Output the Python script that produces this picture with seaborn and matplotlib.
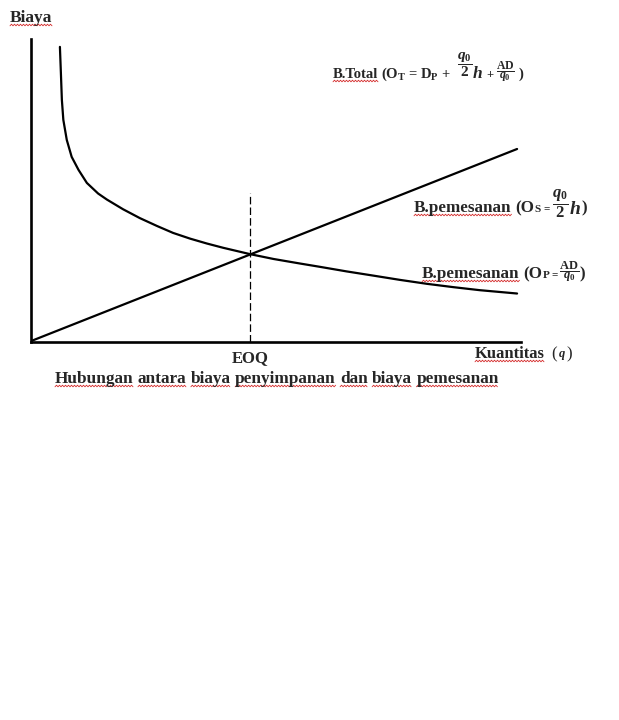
"""
EOQ chart: holding cost vs ordering cost (Biaya vs Kuantitas)
"""
import numpy as np
import matplotlib
matplotlib.use("Agg")
import matplotlib.pyplot as plt
from matplotlib.lines import Line2D
from matplotlib.transforms import IdentityTransform
import seaborn as sns

# ── DATA (axes scaled 0..100) ───────────────────────────────
order_q = [5.9, 6.1, 6.3, 6.6, 7.3, 8.3, 9.7, 11.4, 13.7, 15.5, 18.8, 22.2, 25.7,
           29.0, 32.5, 35.9, 39.2, 44.7, 49.5, 54.9, 59.0, 64.4, 69.9, 75.3,
           80.8, 86.2, 91.6, 99.2]
order_cost = [97.4, 88.8, 79.9, 73.3, 66.7, 61.1, 56.8, 52.5, 49.0, 47.0, 43.8, 40.9, 38.3,
              36.0, 34.1, 32.5, 31.1, 29.0, 27.4, 25.9, 24.8, 23.3, 21.9, 20.5,
              19.2, 18.1, 17.1, 16.0]
hold_q = [0.0, 99.2]
hold_cost = [0.3, 63.7]
eoq_x = 44.7
eoq_top = 49.2

caption_words = ["Hubungan", "antara", "biaya", "penyimpanan", "dan", "biaya", "pemesanan"]

# ── STYLE ───────────────────────────────────────────────────
sns.set_style("white")
plt.rcParams["font.family"] = ["Liberation Serif", "DejaVu Serif"]
plt.rcParams["mathtext.fontset"] = "custom"
plt.rcParams["mathtext.rm"] = "Liberation Serif:bold"
plt.rcParams["mathtext.bf"] = "Liberation Serif:bold"
plt.rcParams["mathtext.it"] = "Liberation Serif:italic:bold"

W, H = 619, 720
fig = plt.figure(figsize=(W / 100, H / 100), dpi=100)
fig.patch.set_facecolor("white")
ax = fig.add_axes([31 / W, 1 - 342 / H, 490 / W, 303 / H])

sns.lineplot(x=order_q, y=order_cost, sort=False, color="black", lw=1.6, ax=ax)
sns.lineplot(x=hold_q, y=hold_cost, sort=False, color="black", lw=1.6, ax=ax)
ax.plot([eoq_x, eoq_x], [0, eoq_top], color="black", lw=0.9, dashes=(6, 2.5))

ax.set_xlim(0, 100)
ax.set_ylim(0, 100)
ax.set_xticks([])
ax.set_yticks([])
ax.set_xlabel("")
ax.set_ylabel("")
for s in ["top", "right"]:
    ax.spines[s].set_visible(False)
for s in ["left", "bottom"]:
    ax.spines[s].set_color("black")
    ax.spines[s].set_linewidth(1.9)

renderer = fig.canvas.get_renderer()


def squiggle(x0, x1, y):
    # red spell-check wave under a word (display pixels)
    xs = np.arange(x0, x1 + 0.1, 1.5)
    ys = y + np.where(np.arange(len(xs)) % 2 == 0, -0.8, 0.8)
    fig.add_artist(Line2D(xs, ys, color="#d42a2a", lw=0.6, transform=IdentityTransform()))


def row(x, y, parts):
    # place text pieces one after another on a baseline at pixel (x, y from top)
    # part = (text, size, gap_before_px, raise_px, wavy, weight)
    for i, (s, size, gap, dy, wavy, weight) in enumerate(parts):
        if i > 0:
            x += gap
        t = fig.text(x / W, 1 - (y - dy) / H, s, fontsize=size, fontweight=weight,
                     va="baseline", ha="left")
        bb = t.get_window_extent(renderer)
        if wavy:
            squiggle(bb.x0, bb.x1, H - y - 3)
        x = bb.x1


B = "bold"
row(10, 22, [("Biaya", 12.5, 0, 0, True, B)])

row(333, 78, [("B.Total", 10.5, 0, 0, True, B),
              (r"(O$_\mathrm{T}$ = D$_\mathrm{P}$ +", 10.5, 3, 0, False, B),
              (r"$\dfrac{q_0}{2}$", 11, 6, 9, False, B),
              (r"$h$", 12.5, 0, 0, False, B),
              ("+", 9, 3, 0, False, B),
              (r"$\dfrac{\mathrm{AD}}{q_0}$", 8.5, 3, 3, False, B),
              (")", 10.5, 3, 0, False, B)])

row(414, 212, [("B.pemesanan", 12.3, 0, 0, True, B),
               ("(O", 12.3, 4, 0, False, B),
               ("S =", 8, 0.5, 0, False, B),
               (r"$\dfrac{q_0}{2}$", 12, 2, 2, False, B),
               (r"$h$", 14, 0, -2, False, B),
               (")", 12.3, 0.5, 0, False, B)])

row(422, 278, [("B.pemesanan", 12.3, 0, 0, True, B),
               ("(O", 12.3, 4, 0, False, B),
               ("P =", 8, 0.5, 0, False, B),
               (r"$\dfrac{\mathrm{AD}}{q_0}$", 9, 1, 3, False, B),
               (")", 12.3, 0, 0, False, B)])

fig.text(250 / W, 1 - 362 / H, "EOQ", fontsize=12, fontweight="bold", ha="center", va="baseline")

row(475, 358, [("Kuantitas", 12, 0, 0, True, B),
               ("(", 12, 6, 0, False, "normal"),
               (r"$q$", 9, 2, 1, False, "normal"),
               (")", 12, 0.5, 0, False, "normal")])

row(55, 383, [(w, 12.4, 4.3, 0, True, B) for w in caption_words])

fig.savefig("out.png", dpi=100, facecolor="white")
